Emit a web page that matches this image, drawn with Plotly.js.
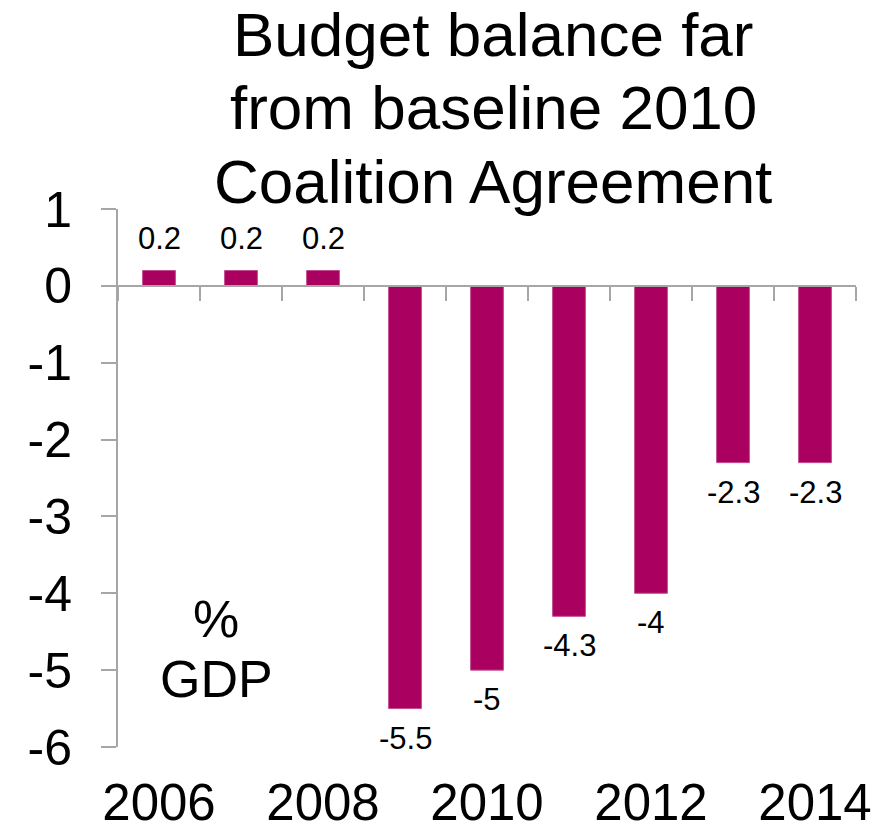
<!DOCTYPE html>
<html>
<head>
<meta charset="utf-8">
<script src="https://cdn.plot.ly/plotly-3.0.1.min.js"></script>
<style>html,body{margin:0;padding:0;background:#fff}#chart{width:889px;height:833px}</style>
</head>
<body>
<div id="chart"></div>
<script>
const years = ["2006","2007","2008","2009","2010","2011","2012","2013","2014"];
const balance = [0.2, 0.2, 0.2, -5.5, -5, -4.3, -4, -2.3, -2.3];
const labelYears = ["2006","2008","2010","2012","2014"];
const yTicks = [1, 0, -1, -2, -3, -4, -5, -6];
const titleLines = ["Budget balance far", "from baseline 2010", "Coalition Agreement"];
const unitLines = ["%", "GDP"];

const FONT = "Liberation Sans, Arial, sans-serif";
const BAR = "#AA0060";
const AX = "#A6A6A6";

// plot-area geometry in pixels (for placing free text)
const L = 118, R = 856, T = 209, B = 747;
const px2x = p => (p - L) / (R - L);
const px2y = p => (B - p) / (B - T);

const traces = [
  {
    type: "bar", x: years, y: balance,
    marker: {color: BAR, line: {color: "#C24C90", width: 1}},
    hoverinfo: "x+y", showlegend: false
  },
  {
    type: "scatter", mode: "none", x: years, y: balance,
    xaxis: "x2", hoverinfo: "skip", showlegend: false
  }
];

const annotations = years.map((yr, i) => {
  const v = balance[i];
  return {
    x: i, y: v, xref: "x", yref: "y",
    text: String(v), showarrow: false,
    xanchor: "center",
    yanchor: v >= 0 ? "bottom" : "top",
    yshift: v >= 0 ? 12 : -10,
    font: {family: FONT, size: 31, color: "#000"}
  };
});
const titleMid = [35, 108, 181];
titleLines.forEach((t, i) => annotations.push({
  xref: "paper", yref: "paper", x: px2x(493), y: px2y(titleMid[i]),
  xanchor: "center", yanchor: "middle", text: t, showarrow: false,
  font: {family: FONT, size: 62, color: "#000"}
}));
const unitMid = [619, 679];
unitLines.forEach((t, i) => annotations.push({
  xref: "paper", yref: "paper", x: px2x(216), y: px2y(unitMid[i]),
  xanchor: "center", yanchor: "middle", text: t, showarrow: false,
  font: {family: FONT, size: 52, color: "#000"}
}));

const layout = {
  width: 889, height: 833,
  margin: {l: L, r: 889 - R, t: T, b: 833 - B, pad: 0},
  paper_bgcolor: "#fff", plot_bgcolor: "#fff",
  bargap: 0.6,
  xaxis: {
    type: "category", categoryarray: years, range: [-0.5, 8.5],
    tickvals: labelYears, ticktext: labelYears,
    showline: false, ticks: "", showgrid: false, zeroline: false,
    ticklabelstandoff: 21,
    tickfont: {family: FONT, size: 51, color: "#000"}
  },
  xaxis2: {
    type: "category", categoryarray: years, range: [-0.5, 8.5],
    overlaying: "x", anchor: "free", position: 6/7, side: "bottom",
    showline: true, linecolor: AX, linewidth: 2,
    ticks: "outside", tickson: "boundaries", ticklen: 14, tickwidth: 2, tickcolor: AX,
    showticklabels: false, showgrid: false, zeroline: false
  },
  yaxis: {
    range: [-6, 1], tickvals: yTicks, ticktext: yTicks.map(String),
    showline: true, linecolor: AX, linewidth: 2,
    ticks: "outside", ticklen: 15, tickwidth: 2, tickcolor: AX,
    showgrid: false, zeroline: false,
    ticklabelstandoff: 19,
    tickfont: {family: FONT, size: 50, color: "#000"}
  },
  annotations: annotations,
  showlegend: false
};

Plotly.newPlot("chart", traces, layout, {displayModeBar: false, staticPlot: true});
</script>
</body>
</html>
